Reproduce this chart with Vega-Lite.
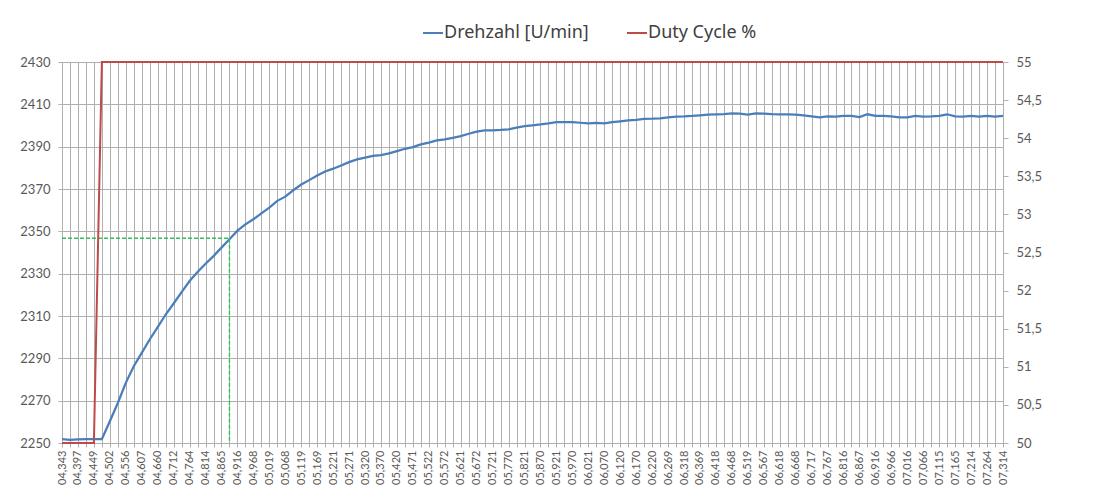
{
  "$schema": "https://vega.github.io/schema/vega-lite/v6.json",
  "width": 941,
  "height": 381,
  "autosize": "none",
  "padding": {"left": 62, "top": 62, "right": 92, "bottom": 45},
  "background": "white",
  "config": {
    "view": {"stroke": null},
    "font": "Lato",
    "axis": {"labelFont": "Lato", "labelColor": "#595959", "domainColor": "#b0b0b0", "tickColor": "#b0b0b0", "gridColor": "#b0b0b0", "title": null}
  },
  "datasets": {
    "main": [
      {"t": "04,343", "drehzahl": 2251.8, "duty": 50},
      {"t": "04,370", "drehzahl": 2251.5, "duty": 50},
      {"t": "04,397", "drehzahl": 2251.7, "duty": 50},
      {"t": "04,423", "drehzahl": 2251.8, "duty": 50},
      {"t": "04,449", "drehzahl": 2251.8, "duty": 50},
      {"t": "04,475", "drehzahl": 2251.8, "duty": 55},
      {"t": "04,502", "drehzahl": 2260.3, "duty": 55},
      {"t": "04,529", "drehzahl": 2268.9, "duty": 55},
      {"t": "04,556", "drehzahl": 2278.4, "duty": 55},
      {"t": "04,581", "drehzahl": 2286.3, "duty": 55},
      {"t": "04,607", "drehzahl": 2292.6, "duty": 55},
      {"t": "04,633", "drehzahl": 2298.9, "duty": 55},
      {"t": "04,660", "drehzahl": 2304.7, "duty": 55},
      {"t": "04,686", "drehzahl": 2310.7, "duty": 55},
      {"t": "04,712", "drehzahl": 2315.9, "duty": 55},
      {"t": "04,738", "drehzahl": 2321.3, "duty": 55},
      {"t": "04,764", "drehzahl": 2326.5, "duty": 55},
      {"t": "04,789", "drehzahl": 2330.8, "duty": 55},
      {"t": "04,814", "drehzahl": 2334.7, "duty": 55},
      {"t": "04,839", "drehzahl": 2338.3, "duty": 55},
      {"t": "04,865", "drehzahl": 2342.3, "duty": 55},
      {"t": "04,890", "drehzahl": 2346.3, "duty": 55},
      {"t": "04,916", "drehzahl": 2350.3, "duty": 55},
      {"t": "04,942", "drehzahl": 2353.3, "duty": 55},
      {"t": "04,968", "drehzahl": 2355.7, "duty": 55},
      {"t": "04,993", "drehzahl": 2358.5, "duty": 55},
      {"t": "05,019", "drehzahl": 2361.2, "duty": 55},
      {"t": "05,043", "drehzahl": 2364.4, "duty": 55},
      {"t": "05,068", "drehzahl": 2366.4, "duty": 55},
      {"t": "05,093", "drehzahl": 2369.4, "duty": 55},
      {"t": "05,119", "drehzahl": 2372.1, "duty": 55},
      {"t": "05,144", "drehzahl": 2374.2, "duty": 55},
      {"t": "05,169", "drehzahl": 2376.4, "duty": 55},
      {"t": "05,195", "drehzahl": 2378.3, "duty": 55},
      {"t": "05,221", "drehzahl": 2379.6, "duty": 55},
      {"t": "05,246", "drehzahl": 2381.1, "duty": 55},
      {"t": "05,271", "drehzahl": 2382.7, "duty": 55},
      {"t": "05,295", "drehzahl": 2384.0, "duty": 55},
      {"t": "05,320", "drehzahl": 2384.8, "duty": 55},
      {"t": "05,345", "drehzahl": 2385.6, "duty": 55},
      {"t": "05,370", "drehzahl": 2386.0, "duty": 55},
      {"t": "05,395", "drehzahl": 2386.8, "duty": 55},
      {"t": "05,420", "drehzahl": 2387.9, "duty": 55},
      {"t": "05,445", "drehzahl": 2389.0, "duty": 55},
      {"t": "05,471", "drehzahl": 2389.8, "duty": 55},
      {"t": "05,496", "drehzahl": 2391.1, "duty": 55},
      {"t": "05,522", "drehzahl": 2391.9, "duty": 55},
      {"t": "05,547", "drehzahl": 2393.0, "duty": 55},
      {"t": "05,572", "drehzahl": 2393.4, "duty": 55},
      {"t": "05,596", "drehzahl": 2394.2, "duty": 55},
      {"t": "05,621", "drehzahl": 2395.0, "duty": 55},
      {"t": "05,646", "drehzahl": 2396.1, "duty": 55},
      {"t": "05,672", "drehzahl": 2397.1, "duty": 55},
      {"t": "05,696", "drehzahl": 2397.7, "duty": 55},
      {"t": "05,721", "drehzahl": 2397.7, "duty": 55},
      {"t": "05,745", "drehzahl": 2397.9, "duty": 55},
      {"t": "05,770", "drehzahl": 2398.2, "duty": 55},
      {"t": "05,795", "drehzahl": 2399.0, "duty": 55},
      {"t": "05,821", "drehzahl": 2399.7, "duty": 55},
      {"t": "05,845", "drehzahl": 2400.1, "duty": 55},
      {"t": "05,870", "drehzahl": 2400.5, "duty": 55},
      {"t": "05,895", "drehzahl": 2401.0, "duty": 55},
      {"t": "05,921", "drehzahl": 2401.6, "duty": 55},
      {"t": "05,945", "drehzahl": 2401.6, "duty": 55},
      {"t": "05,970", "drehzahl": 2401.6, "duty": 55},
      {"t": "05,995", "drehzahl": 2401.3, "duty": 55},
      {"t": "06,021", "drehzahl": 2401.0, "duty": 55},
      {"t": "06,045", "drehzahl": 2401.2, "duty": 55},
      {"t": "06,070", "drehzahl": 2401.0, "duty": 55},
      {"t": "06,095", "drehzahl": 2401.6, "duty": 55},
      {"t": "06,120", "drehzahl": 2402.0, "duty": 55},
      {"t": "06,145", "drehzahl": 2402.4, "duty": 55},
      {"t": "06,170", "drehzahl": 2402.7, "duty": 55},
      {"t": "06,195", "drehzahl": 2403.1, "duty": 55},
      {"t": "06,220", "drehzahl": 2403.2, "duty": 55},
      {"t": "06,244", "drehzahl": 2403.4, "duty": 55},
      {"t": "06,269", "drehzahl": 2403.8, "duty": 55},
      {"t": "06,293", "drehzahl": 2404.2, "duty": 55},
      {"t": "06,318", "drehzahl": 2404.3, "duty": 55},
      {"t": "06,343", "drehzahl": 2404.5, "duty": 55},
      {"t": "06,369", "drehzahl": 2404.8, "duty": 55},
      {"t": "06,393", "drehzahl": 2405.1, "duty": 55},
      {"t": "06,418", "drehzahl": 2405.3, "duty": 55},
      {"t": "06,443", "drehzahl": 2405.4, "duty": 55},
      {"t": "06,468", "drehzahl": 2405.7, "duty": 55},
      {"t": "06,493", "drehzahl": 2405.6, "duty": 55},
      {"t": "06,519", "drehzahl": 2405.1, "duty": 55},
      {"t": "06,543", "drehzahl": 2405.7, "duty": 55},
      {"t": "06,567", "drehzahl": 2405.6, "duty": 55},
      {"t": "06,592", "drehzahl": 2405.4, "duty": 55},
      {"t": "06,618", "drehzahl": 2405.3, "duty": 55},
      {"t": "06,643", "drehzahl": 2405.3, "duty": 55},
      {"t": "06,668", "drehzahl": 2405.1, "duty": 55},
      {"t": "06,692", "drehzahl": 2404.8, "duty": 55},
      {"t": "06,717", "drehzahl": 2404.3, "duty": 55},
      {"t": "06,742", "drehzahl": 2403.8, "duty": 55},
      {"t": "06,767", "drehzahl": 2404.3, "duty": 55},
      {"t": "06,791", "drehzahl": 2404.2, "duty": 55},
      {"t": "06,816", "drehzahl": 2404.5, "duty": 55},
      {"t": "06,841", "drehzahl": 2404.5, "duty": 55},
      {"t": "06,867", "drehzahl": 2404.0, "duty": 55},
      {"t": "06,891", "drehzahl": 2405.3, "duty": 55},
      {"t": "06,916", "drehzahl": 2404.6, "duty": 55},
      {"t": "06,941", "drehzahl": 2404.5, "duty": 55},
      {"t": "06,966", "drehzahl": 2404.3, "duty": 55},
      {"t": "06,991", "drehzahl": 2403.8, "duty": 55},
      {"t": "07,016", "drehzahl": 2403.8, "duty": 55},
      {"t": "07,041", "drehzahl": 2404.5, "duty": 55},
      {"t": "07,066", "drehzahl": 2404.2, "duty": 55},
      {"t": "07,090", "drehzahl": 2404.3, "duty": 55},
      {"t": "07,115", "drehzahl": 2404.5, "duty": 55},
      {"t": "07,140", "drehzahl": 2405.3, "duty": 55},
      {"t": "07,165", "drehzahl": 2404.3, "duty": 55},
      {"t": "07,189", "drehzahl": 2404.2, "duty": 55},
      {"t": "07,214", "drehzahl": 2404.5, "duty": 55},
      {"t": "07,239", "drehzahl": 2404.2, "duty": 55},
      {"t": "07,264", "drehzahl": 2404.5, "duty": 55},
      {"t": "07,289", "drehzahl": 2404.2, "duty": 55},
      {"t": "07,314", "drehzahl": 2404.5, "duty": 55}
    ],
    "guide": [
      {"t": "04,343", "v": 2346.7, "o": 1},
      {"t": "04,890", "v": 2346.7, "o": 2},
      {"t": "04,890", "v": 2250, "o": 3}
    ]
  },
  "layer": [
    {
      "layer": [
        {
          "data": {"name": "main"},
          "mark": {"type": "line", "strokeWidth": 2.25},
          "encoding": {
            "x": {
              "field": "t",
              "type": "ordinal",
              "scale": {"type": "point", "padding": 0},
              "axis": {
                "grid": true,
                "tickSize": 4,
                "labelAngle": -90,
                "labelFontSize": 11,
                "labelPadding": 3,
                "labelOverlap": false,
                "labelBound": false,
                "labelExpr": "indexof(['04,343','04,397','04,449','04,502','04,556','04,607','04,660','04,712','04,764','04,814','04,865','04,916','04,968','05,019','05,068','05,119','05,169','05,221','05,271','05,320','05,370','05,420','05,471','05,522','05,572','05,621','05,672','05,721','05,770','05,821','05,870','05,921','05,970','06,021','06,070','06,120','06,170','06,220','06,269','06,318','06,369','06,418','06,468','06,519','06,567','06,618','06,668','06,717','06,767','06,816','06,867','06,916','06,966','07,016','07,066','07,115','07,165','07,214','07,264','07,314'], datum.value) >= 0 ? datum.value : ''"
              }
            },
            "y": {
              "field": "drehzahl",
              "type": "quantitative",
              "scale": {"domain": [2250, 2430], "nice": false, "zero": false},
              "axis": {
                "values": [2250, 2270, 2290, 2310, 2330, 2350, 2370, 2390, 2410, 2430],
                "format": "d",
                "grid": true,
                "tickSize": 4,
                "labelFontSize": 13,
                "labelPadding": 8
              }
            },
            "color": {
              "datum": "Drehzahl [U/min]",
              "type": "nominal",
              "scale": {"domain": ["Drehzahl [U/min]", "Duty Cycle %"], "range": ["#4a7ebb", "#be4b48"]},
              "legend": {
                "orient": "none",
                "legendX": 360,
                "legendY": -40,
                "direction": "horizontal",
                "title": null,
                "symbolType": "stroke",
                "symbolSize": 400,
                "symbolStrokeWidth": 2,
                "labelFontSize": 18,
                "labelFont": "Noto Sans",
                "labelColor": "#404040",
                "labelOffset": 0,
                "columnPadding": 34,
                "padding": 0
              }
            }
          }
        },
        {
          "data": {"name": "guide"},
          "mark": {"type": "line", "color": "#33c05a", "strokeWidth": 1.4, "strokeDash": [4, 2]},
          "encoding": {
            "x": {"field": "t", "type": "ordinal"},
            "y": {"field": "v", "type": "quantitative"},
            "order": {"field": "o", "type": "quantitative"}
          }
        }
      ]
    },
    {
      "data": {"name": "main"},
      "mark": {"type": "line", "strokeWidth": 2},
      "encoding": {
        "x": {"field": "t", "type": "ordinal"},
        "y": {
          "field": "duty",
          "type": "quantitative",
          "scale": {"domain": [50, 55], "nice": false, "zero": false},
          "axis": {
            "orient": "right",
            "values": [50, 50.5, 51, 51.5, 52, 52.5, 53, 53.5, 54, 54.5, 55],
            "labelExpr": "replace(format(datum.value, '~f'), '.', ',')",
            "grid": false,
            "tickSize": 5,
            "labelFontSize": 13,
            "labelPadding": 8
          }
        },
        "color": {"datum": "Duty Cycle %", "type": "nominal"}
      }
    }
  ],
  "resolve": {"scale": {"y": "independent"}}
}
